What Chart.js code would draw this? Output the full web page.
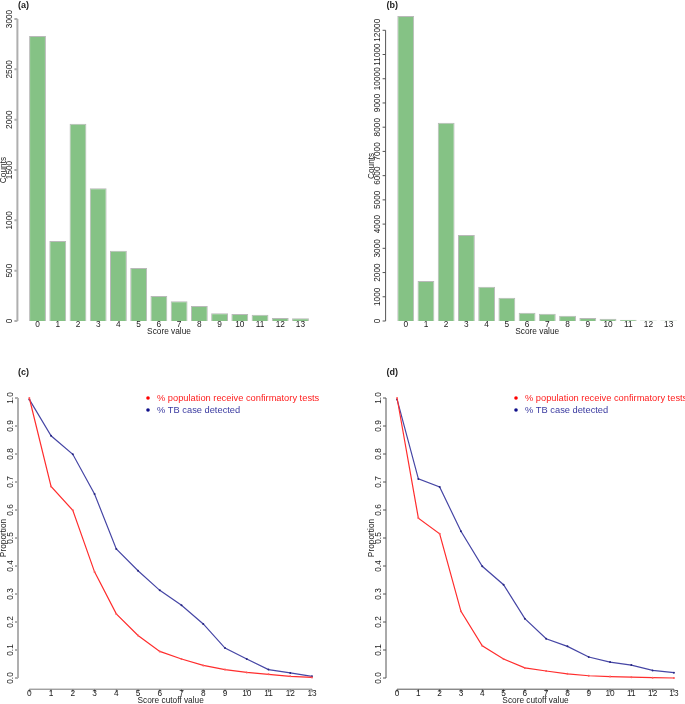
<!DOCTYPE html>
<html>
<head>
<meta charset="utf-8">
<script src="https://cdn.jsdelivr.net/npm/chart.js@4/dist/chart.umd.min.js"></script>
<style>
  html, body { margin: 0; padding: 0; background: #fff; overflow: hidden; }
  body { width: 685px; height: 704px; position: relative; }
  canvas { position: absolute; }
</style>
</head>
<body>
<canvas id="chartA" width="342" height="352" style="left:0;top:0"></canvas>
<canvas id="chartB" width="343" height="352" style="left:342px;top:0"></canvas>
<canvas id="chartC" width="342" height="352" style="left:0;top:352px"></canvas>
<canvas id="chartD" width="347" height="352" style="left:342px;top:352px"></canvas>
<script>
// score categories
const scoreValues = [0, 1, 2, 3, 4, 5, 6, 7, 8, 9, 10, 11, 12, 13];

// (a) and (b) counts per score value
const countsA = [2831, 795, 1960, 1318, 699, 526, 248, 195, 149, 76, 70, 63, 30, 27];
const countsB = [12590, 1651, 8186, 3550, 1417, 963, 344, 303, 220, 124, 95, 54, 25, 20];

// (c) and (d) proportions per cutoff
const popTestedC = [1.0, 0.684, 0.599, 0.379, 0.229, 0.152, 0.095, 0.068, 0.045, 0.030, 0.020, 0.013, 0.006, 0.002];
const tbDetectedC = [0.995, 0.865, 0.799, 0.657, 0.461, 0.383, 0.313, 0.260, 0.193, 0.107, 0.068, 0.030, 0.018, 0.006];
const popTestedD = [1.0, 0.571, 0.515, 0.238, 0.115, 0.068, 0.036, 0.025, 0.015, 0.008, 0.005, 0.003, 0.001, 0.0];
const tbDetectedD = [0.995, 0.711, 0.682, 0.524, 0.399, 0.333, 0.212, 0.140, 0.113, 0.075, 0.057, 0.046, 0.027, 0.019];

// tick labels
const countTicksA = [0, 500, 1000, 1500, 2000, 2500, 3000];
const countTicksB = [0, 1000, 2000, 3000, 4000, 5000, 6000, 7000, 8000, 9000, 10000, 11000, 12000];
const propTicks = [0, 0.1, 0.2, 0.3, 0.4, 0.5, 0.6, 0.7, 0.8, 0.9, 1.0];
const cutoffTicks = scoreValues;

const seriesNames = ['% population receive confirmatory tests', '% TB case detected'];

const FONT = '"Liberation Sans", Arial, sans-serif';

// base-R looking axes, panel tags and legend
const rAxes = {
    id: 'rAxes',
    afterDraw(chart, args, o) {
        const ctx = chart.ctx;
        const area = chart.chartArea;
        const xs = chart.scales.x, ys = chart.scales.y;
        ctx.save();
        ctx.fillStyle = '#222';
        ctx.font = '8.3px ' + FONT;

        // y axis
        const ax = area.left - o.yGap;
        const yt = o.yTicks;
        const yTop = ys.getPixelForValue(yt[yt.length - 1]);
        const yBot = ys.getPixelForValue(yt[0]);
        ctx.strokeStyle = o.yColor;
        ctx.lineWidth = o.yWidth;
        ctx.beginPath();
        ctx.moveTo(ax, yTop); ctx.lineTo(ax, yBot);
        yt.forEach(v => {
            const p = ys.getPixelForValue(v);
            ctx.moveTo(ax, p); ctx.lineTo(ax - 3, p);
        });
        ctx.stroke();
        ctx.textAlign = 'center';
        ctx.textBaseline = 'middle';
        yt.forEach(v => {
            const p = ys.getPixelForValue(v);
            ctx.save();
            ctx.translate(ax - 7.5, p);
            ctx.rotate(-Math.PI / 2);
            ctx.fillText(o.yFmt(v), 0, 0);
            ctx.restore();
        });
        ctx.save();
        ctx.translate(ax - 14, (area.top + area.bottom) / 2 + o.yTitleShift);
        ctx.rotate(-Math.PI / 2);
        ctx.fillText(o.yTitle, 0, 0);
        ctx.restore();

        // x axis
        if (o.xLine) {
            const xt = o.xTicks;
            const x0 = xs.getPixelForValue(xt[0]);
            const x1 = xs.getPixelForValue(xt[xt.length - 1]);
            ctx.strokeStyle = o.xColor;
            ctx.lineWidth = o.xWidth;
            ctx.beginPath();
            ctx.moveTo(x0, area.bottom); ctx.lineTo(x1, area.bottom);
            xt.forEach(v => {
                const p = xs.getPixelForValue(v);
                ctx.moveTo(p, area.bottom); ctx.lineTo(p, area.bottom + 3);
            });
            ctx.stroke();
            xt.forEach(v => ctx.fillText(String(v), xs.getPixelForValue(v), area.bottom + 5));
        } else {
            chart.data.labels.forEach((l, i) => ctx.fillText(String(l), xs.getPixelForValue(i), area.bottom + 4));
        }
        ctx.fillText(o.xTitle, (area.left + area.right) / 2 - o.xTitleShift, area.bottom + o.xTitleGap);

        // panel tag
        ctx.font = 'bold 9px ' + FONT;
        ctx.textAlign = 'left';
        ctx.fillText(o.tag, o.tagX, o.tagY);

        // legend
        if (o.legend) {
            ctx.font = '9.3px ' + FONT;
            const y0 = ys.getPixelForValue(1.0);
            chart.data.datasets.forEach((ds, i) => {
                const y = y0 + i * 12;
                ctx.fillStyle = o.legendDot[i];
                ctx.beginPath();
                ctx.arc(area.left + o.legendX, y, 1.8, 0, Math.PI * 2);
                ctx.fill();
                ctx.fillStyle = o.legendText[i];
                ctx.fillText(ds.label, area.left + o.legendX + 9, y);
            });
        }
        ctx.restore();
    }
};

function barChart(id, counts, yTicks, yMax, padding, tag, tagX) {
    return new Chart(document.getElementById(id), {
        type: 'bar',
        data: {
            labels: scoreValues,
            datasets: [{
                data: counts,
                backgroundColor: 'rgb(133,194,133)',
                borderColor: 'rgb(185,185,185)',
                borderWidth: 1,
                barPercentage: 0.833,
                categoryPercentage: 1
            }]
        },
        options: {
            responsive: false,
            animation: false,
            layout: { padding: padding },
            scales: {
                x: { display: false },
                y: { display: false, min: 0, max: yMax }
            },
            plugins: {
                legend: { display: false },
                tooltip: { enabled: false },
                rAxes: {
                    yGap: 10, yTicks: yTicks, yColor: tag === '(a)' ? 'rgb(175,175,175)' : '#555',
                    yWidth: tag === '(a)' ? 2 : 1, yFmt: v => String(v),
                    yTitle: 'Counts', yTitleShift: 0,
                    xLine: false, xTitle: 'Score value', xTitleGap: 11, xTitleShift: 0,
                    tag: tag, tagX: tagX, tagY: 6, legend: false
                }
            }
        },
        plugins: [rAxes]
    });
}

function lineChart(id, pop, tb, padding, tag, tagX, light) {
    return new Chart(document.getElementById(id), {
        type: 'line',
        data: {
            labels: cutoffTicks,
            datasets: [{
                label: seriesNames[0],
                data: pop,
                borderColor: 'rgb(255,45,45)',
                backgroundColor: 'rgb(255,90,90)',
                borderWidth: 1.2,
                pointRadius: 1,
                pointBorderWidth: 0,
                tension: 0
            }, {
                label: seriesNames[1],
                data: tb,
                borderColor: 'rgb(70,70,165)',
                backgroundColor: 'rgb(40,40,130)',
                borderWidth: 1.2,
                pointRadius: 1,
                pointBorderWidth: 0,
                tension: 0
            }]
        },
        options: {
            responsive: false,
            animation: false,
            layout: { padding: padding },
            scales: {
                x: { type: 'linear', display: false, min: -0.52, max: 13.52 },
                y: { display: false, min: -0.04, max: 1.04 }
            },
            plugins: {
                legend: { display: false },
                tooltip: { enabled: false },
                rAxes: {
                    yGap: 0, yTicks: propTicks, yColor: light ? 'rgb(175,175,175)' : '#555',
                    yWidth: light ? 2 : 1, yFmt: v => v.toFixed(1),
                    yTitle: 'Proportion', yTitleShift: 0,
                    xLine: true, xTicks: cutoffTicks, xColor: light ? '#777' : '#555', xWidth: 1,
                    xTitle: 'Score cutoff value', xTitleGap: 11.5, xTitleShift: 0,
                    tag: tag, tagX: tagX, tagY: 21, legend: true, legendX: 130,
                    legendDot: ['#ff0000', '#10108a'],
                    legendText: ['#ff2020', '#3a3aa0']
                }
            }
        },
        plugins: [rAxes]
    });
}

barChart('chartA', countsA, countTicksA, 3000, { left: 27.4, right: 31.4, top: 19, bottom: 31 }, '(a)', 18);
barChart('chartB', countsB, countTicksB, 12800, { left: 53.6, right: 6.2, top: 10.9, bottom: 31 }, '(b)', 44.5);
lineChart('chartC', popTestedC, tbDetectedC, { left: 18, right: 18.7, top: 34.8, bottom: 14.8 }, '(c)', 18, true);
lineChart('chartD', popTestedD, tbDetectedD, { left: 44, right: 0.5, top: 34.8, bottom: 14.8 }, '(d)', 44.5, false);
</script>
</body>
</html>
